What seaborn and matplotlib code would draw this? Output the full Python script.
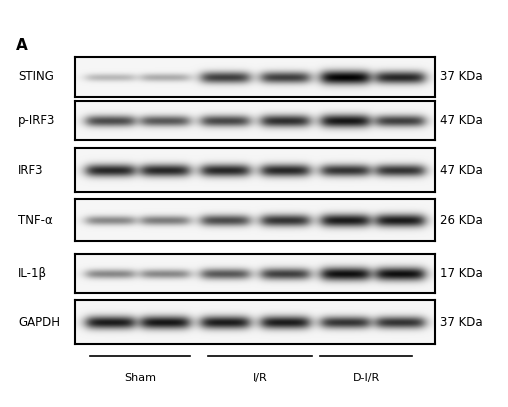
import numpy as np
import matplotlib
matplotlib.use("Agg")
import matplotlib.pyplot as plt
import seaborn as sns

proteins = ["STING", "p-IRF3", "IRF3", "TNF-α", "IL-1β", "GAPDH"]
weights = ["37 KDa", "47 KDa", "47 KDa", "26 KDa", "17 KDa", "37 KDa"]
groups = ["Sham", "I/R", "D-I/R"]
sting = [0.25, 0.30, 0.75, 0.75, 1.00, 0.85]
pirf3 = [0.70, 0.65, 0.72, 0.82, 0.92, 0.75]
irf3 = [0.85, 0.85, 0.85, 0.85, 0.80, 0.80]
tnf = [0.45, 0.50, 0.70, 0.80, 0.90, 0.90]
il1b = [0.45, 0.45, 0.65, 0.75, 0.95, 0.95]
gapdh = [0.90, 0.92, 0.90, 0.90, 0.80, 0.80]
intensities = [sting, pirf3, irf3, tnf, il1b, gapdh]

W, H = 508, 407
fig = plt.figure(figsize=(W/100, H/100), dpi=100)
rows = [(57, 97), (101, 140), (148, 192), (199, 241), (254, 293), (300, 344)]
x0, x1 = 75, 435
lane_c = np.array([110, 165, 225, 285, 345, 400]) - x0
nx = x1 - x0
xs = np.arange(nx)

for name, kda, vals, (t, b) in zip(proteins, weights, intensities, rows):
    ax = fig.add_axes([x0/W, 1-b/H, nx/W, (b-t)/H])
    ny = b - t
    ys = np.arange(ny)
    img = np.full((ny, nx), 0.04)
    for c, v in zip(lane_c, vals):
        px = 1/(1+np.exp((np.abs(xs-c)-24)/3.5))
        py = np.exp(-((ys-ny/2)/(3+4*v))**2)
        img += v*np.outer(py, px)
    sns.heatmap(img, cmap="gray_r", vmin=0, vmax=1.05, cbar=False, ax=ax,
                xticklabels=False, yticklabels=False)
    for s in ax.spines.values():
        s.set_visible(True); s.set_color("black"); s.set_linewidth(1.5)
    fig.text(18/W, 1-((t+b)/2)/H, name, fontsize=8.5, va="center", ha="left")
    fig.text(440/W, 1-((t+b)/2)/H, kda, fontsize=8.5, va="center", ha="left")

fig.text(16/W, 1-45/H, "A", fontsize=11, fontweight="bold", va="center")
lines = [(90, 190), (208, 312), (320, 412)]
for g, (a, bb) in zip(groups, lines):
    fig.add_artist(plt.Line2D([a/W, bb/W], [1-356/H]*2, color="black", lw=1.2))
    fig.text((a+bb)/2/W, 1-378/H, g, fontsize=8, ha="center", va="center")

fig.savefig("out.png", dpi=100)
